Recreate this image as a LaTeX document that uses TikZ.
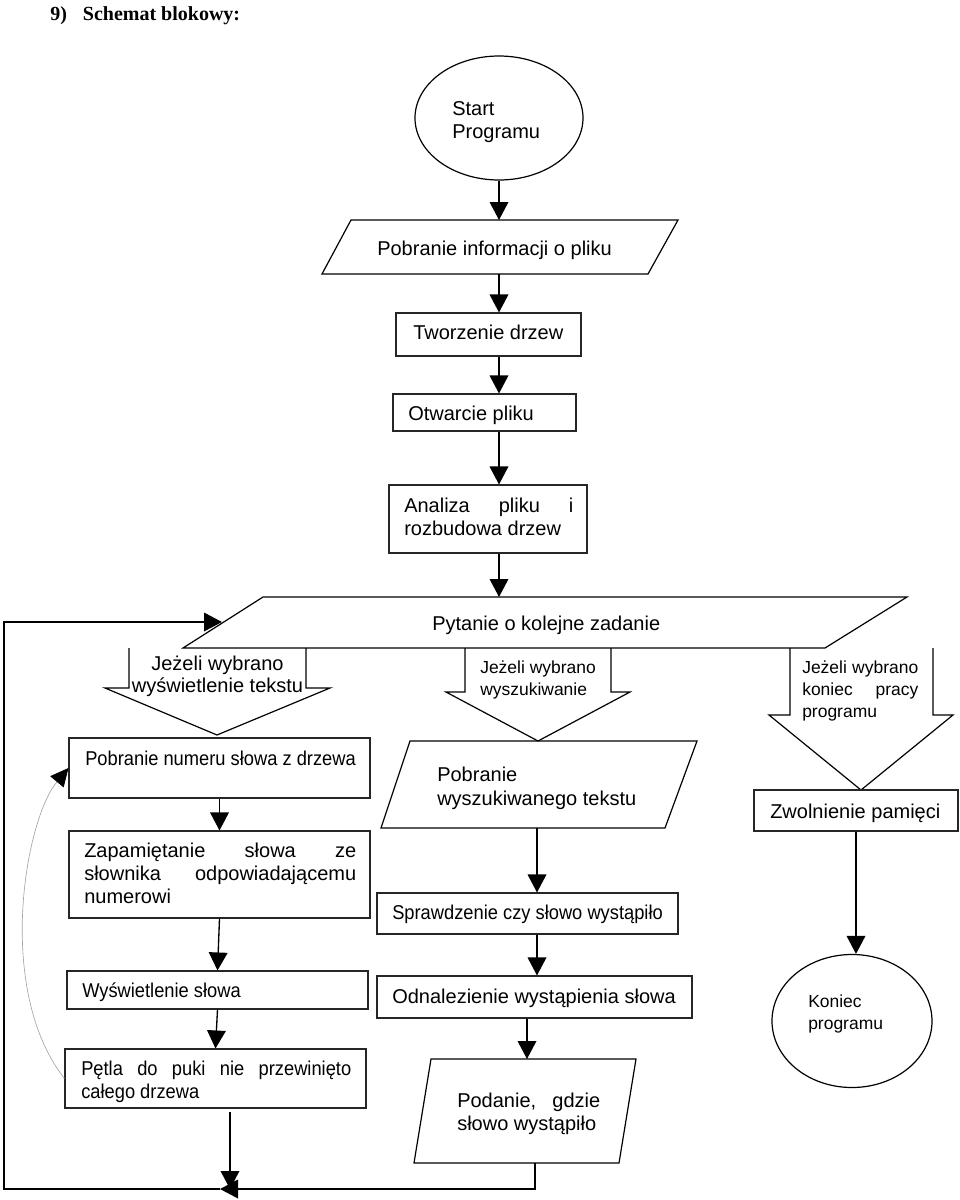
\documentclass[tikz,border=0pt]{standalone}
\usepackage{fontspec}
\setmainfont{Liberation Sans}
\newfontfamily\condfont{Liberation Sans}[FakeStretch=0.915]
\newfontfamily\seriffont{Liberation Serif}
\usetikzlibrary{arrows.meta,shapes.geometric,fit,calc}
\newdimen\upx \upx=0.75pt
\newcommand\mainsize{\fontsize{15}{17.25}\selectfont}
\newcommand\smallsz{\fontsize{13.1}{16.5}\selectfont}
\newcommand\jline[2]{\hbox to #1\upx{#2}}
\tikzset{
  x=0.75pt, y=-0.75pt,
  box/.style={draw=black!85, line width=0.8pt, inner sep=0pt},
  ell/.style={draw, ellipse, line width=0.9pt, inner sep=0pt},
  shp/.style={draw, line width=0.9pt, line join=miter},
  txt/.style={inner sep=0pt, font=\mainsize, anchor=base west},
  stxt/.style={inner sep=0pt, font=\smallsz, anchor=base west},
  tip/.style={-{Triangle[length=13.5pt,width=14pt]}},
  arr/.style={draw, line width=1pt, tip},
  conn/.style={draw, line width=1pt},
}
\begin{document}
\begin{tikzpicture}
\useasboundingbox (0,0) rectangle (960,1200);

% title
\node[inner sep=0pt, anchor=base west, font=\seriffont\bfseries\fontsize{15}{18}\selectfont] (title) at (50,20) {9)\hspace{12pt}Schemat blokowy:};

% ---- main column ----
\node[ell, minimum width=168\upx, minimum height=124\upx] (start) at (499,118) {};
\node[txt] (start-t) at (452,115) {\vtop{\hbox{Start}\hbox{Programu}}};

\draw[shp] (351,220) -- (678,220) -- (648,274) -- (322,274) -- cycle;
\coordinate (pinfo-n) at (499,220);
\coordinate (pinfo-s) at (499,274);
\node[txt] (pinfo-t) at (377,255) {Pobranie informacji o pliku};

\node[box, fit={(396,313) (581,356)}] (tw) {};
\node[txt] (tw-t) at (413,339) {Tworzenie drzew};

\node[box, fit={(393,394) (576,431)}] (otw) {};
\node[txt] (otw-t) at (408,420) {Otwarcie pliku};

\node[box, fit={(389,485) (587,553)}] (ana) {};
\node[txt] (ana-t) at (404,512) {\vtop{\jline{169}{Analiza\hfill pliku\hfill i}\hbox{rozbudowa drzew}}};

% Pytanie parallelogram
\draw[shp] (263,597) -- (907,597) -- (825,648) -- (183,648) -- cycle;
\coordinate (pyt-n) at (499,597);
\coordinate (pyt-w) at (222,622);
\node[txt] (pyt-t) at (432,630) {Pytanie o kolejne zadanie};

% block arrows
\draw[shp] (129,648) -- (129,688) -- (105,688) -- (217,735) -- (330,688) -- (306,688) -- (306,648);
\node[txt, anchor=base] (a1-t) at (217.5,670) {\vtop{\baselineskip=16.5pt\jline{180}{\hfil Jeżeli wybrano\hfil}\jline{180}{\hfil wyświetlenie tekstu\hfil}}};

\draw[shp] (465,648) -- (465,692) -- (446,692) -- (538,741) -- (630,692) -- (611,692) -- (611,648);
\node[stxt] (a2-t) at (480,673) {\vtop{\hbox{Jeżeli wybrano}\hbox{wyszukiwanie}}};

\draw[shp] (790,648) -- (790,715) -- (769,715) -- (861,790) -- (953,715) -- (933,715) -- (933,648);
\node[stxt] (a3-t) at (802,673) {\vtop{\jline{116}{Jeżeli wybrano}\jline{116}{koniec\hfill pracy}\hbox{programu}}};

% ---- left column ----
\node[box, fit={(69,738) (370,798)}] (pnum) {};
\node[txt] (pnum-t) at (85,765) {\condfont Pobranie numeru słowa z drzewa};

\node[box, fit={(69,831) (370,918)}] (zap) {};
\node[txt] (zap-t) at (84,857) {\vtop{\jline{272}{Zapamiętanie\hfill słowa\hfill ze}\jline{272}{słownika\hfill odpowiadającemu}\hbox{numerowi}}};

\node[box, fit={(67,971) (368,1009)}] (wys) {};
\node[txt] (wys-t) at (82,997) {\condfont Wyświetlenie słowa};

\node[box, fit={(65,1049) (366,1108)}] (pet) {};
\node[txt] (pet-t) at (81,1075) {\condfont\vtop{\jline{270}{Pętla\hfill do\hfill puki\hfill nie\hfill przewinięto}\hbox{całego drzewa}}};

% ---- middle column ----
\draw[shp] (410,741) -- (697,741) -- (665,828) -- (381,828) -- cycle;
\coordinate (pwt-s) at (537,828);
\node[txt] (pwt-t) at (437,781) {\vtop{\baselineskip=18pt\hbox{Pobranie}\hbox{wyszukiwanego tekstu}}};

\node[box, fit={(377,893) (678,934)}] (spr) {};
\node[txt] (spr-t) at (392,919) {\condfont Sprawdzenie czy słowo wystąpiło};

\node[box, fit={(377,976) (692,1018)}] (odn) {};
\node[txt] (odn-t) at (392,1003) {Odnalezienie wystąpienia słowa};

\draw[shp] (431,1059) -- (636,1059) -- (619,1163) -- (414,1163) -- cycle;
\coordinate (pod-n) at (527,1059);
\coordinate (pod-s) at (535,1163);
\node[txt] (pod-t) at (457,1107) {\vtop{\jline{143}{Podanie,\hfill gdzie}\hbox{słowo wystąpiło}}};

% ---- right column ----
\node[box, fit={(754,790) (958,831)}] (zw) {};
\node[txt] (zw-t) at (770,818) {Zwolnienie pamięci};

\node[ell, minimum width=160\upx, minimum height=133\upx] (kon) at (852,1021) {};
\node[stxt] (kon-t) at (808,1007) {\vtop{\baselineskip=17pt\hbox{Koniec}\hbox{programu}}};

% ---- connectors ----
\draw[arr] (start.south) -- (pinfo-n);
\draw[arr] (pinfo-s) -- (tw.north -| pinfo-s);
\draw[arr] (tw.south -| pinfo-s) -- (otw.north -| pinfo-s);
\draw[arr] (otw.south -| pinfo-s) -- (ana.north -| pinfo-s);
\draw[arr] (ana.south -| pinfo-s) -- (pyt-n);

\draw[arr] (pnum.south) -- (zap.north);
\draw[arr] (zap.south) -- (wys.north);
\draw[arr] (wys.south) -- (pet.north);
\coordinate (pet-out) at (230,1112);
\coordinate (join) at (230,1189);
\draw[arr] (pet-out) -- (join);

\draw[arr] (pwt-s) -- (spr.north -| pwt-s);
\draw[arr] (spr.south -| pwt-s) -- (odn.north -| pwt-s);
\draw[arr] (odn.south -| pod-n) -- (pod-n);

\draw[arr] (zw.south) -- (kon.north -| zw.south);

% return loop
\coordinate (ret-c) at (535,1189);
\coordinate (ret-tip) at (220,1189);
\coordinate (loop-bl) at (4,1189);
\draw[arr] (pod-s) -- (ret-c) -- (ret-tip);
\draw[arr] (ret-tip) -- (loop-bl) |- (pyt-w);

% gray loop curve
\draw[gray!70, line width=0.5pt, -{Triangle[length=13.5pt,width=13pt,color=black,fill=black]}]
  (pet.west) .. controls (-5,990) and (25,820) .. (pnum.west);
\end{tikzpicture}
\end{document}
